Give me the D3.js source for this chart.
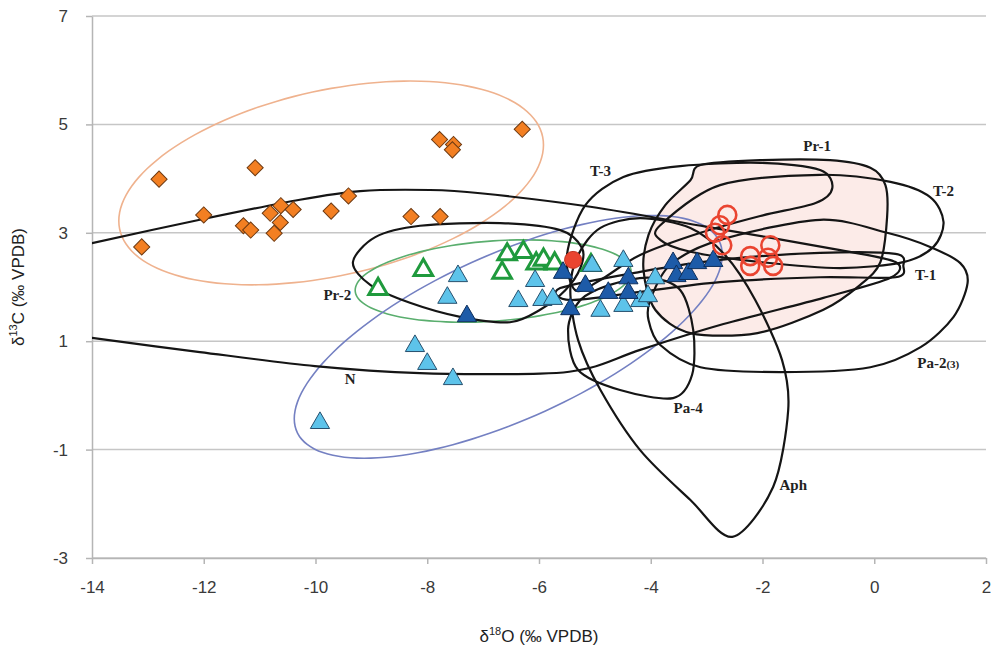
<!DOCTYPE html>
<html>
<head>
<meta charset="utf-8">
<script src="https://cdn.jsdelivr.net/npm/d3@7"></script>
<style>
  body { margin: 0; background: #fff; }
</style>
</head>
<body>
<div id="chart"></div>
<script>
// ticks
const xTicks = [-14, -12, -10, -8, -6, -4, -2, 0, 2];
const yTicks = [-3, -1, 1, 3, 5, 7];

// measured samples (d18O, d13C)
const orangeDiamonds = [[-13.11,2.74],[-12.80,3.99],[-12.00,3.33],[-11.08,4.20],[-11.29,3.13],[-11.16,3.05],
  [-10.81,3.36],[-10.62,3.50],[-10.63,3.19],[-10.74,2.99],[-10.40,3.43],[-9.72,3.40],[-9.41,3.68],
  [-8.29,3.30],[-7.77,3.30],[-7.78,4.72],[-7.53,4.63],[-7.55,4.53],[-6.30,4.91]];
const greenTriangles = [[-8.88,1.98],[-8.07,2.33],[-6.66,2.28],[-6.57,2.62],[-6.28,2.66],[-6.05,2.45],
  [-5.92,2.52],[-5.72,2.45],[-5.07,2.42]];
const lightBlueTriangles = [[-9.92,-0.49],[-8.22,0.93],[-8.00,0.60],[-7.54,0.32],[-7.45,2.22],[-7.64,1.82],
  [-6.37,1.76],[-6.07,2.13],[-5.94,1.78],[-5.75,1.80],[-5.05,2.41],[-4.49,2.50],[-4.90,1.58],[-4.49,1.67],
  [-4.19,1.76],[-4.05,1.85],[-3.92,2.18]];
const darkBlueTriangles = [[-7.29,1.48],[-5.57,2.28],[-5.17,2.04],[-5.44,1.61],[-4.76,1.91],[-4.40,2.18],
  [-4.40,1.91],[-3.60,2.46],[-3.54,2.22],[-3.33,2.26],[-3.17,2.46],[-2.88,2.50]];
const redOpenCircles = [[-2.63,3.33],[-2.76,3.14],[-2.85,3.00],[-2.72,2.77],[-1.86,2.77],[-2.22,2.57],
  [-1.90,2.54],[-2.22,2.39],[-1.81,2.39]];
const redFilled = [[-5.39,2.50]];

// colored ellipses: centre, right-most offset, vertical half extent
const orangeEllipse = { cx: -9.72, cy: 3.92, ux: 3.80, uy: 0.70, h: 1.88 };
const greenEllipse  = { cx: -6.82, cy: 2.11, ux: 2.47, uy: 0.17, h: 0.76 };
const blueEllipse   = { cx: -6.55, cy: 1.08, ux: 3.83, uy: 1.51, h: 2.24 };

// black field outlines (from the picture)
const fieldPr1 = [[-3.11,4.25],[-2.04,4.34],[-0.79,4.34],[-0.07,4.20],[0.20,3.88],[0.23,3.29],[0.11,2.46],
  [-0.25,2.04],[-0.91,1.58],[-2.09,1.15],[-3.29,1.15],[-3.92,1.58],[-4.13,2.31],[-4.04,2.96],[-3.74,3.51],[-3.29,3.97]];
const fieldT2 = [[-3.83,3.14],[-2.76,3.88],[-0.97,4.07],[0.29,3.94],[1.00,3.66],[1.24,3.20],[1.06,2.74],
  [0.52,2.46],[-0.61,2.35],[-2.04,2.46],[-3.29,2.65],[-3.83,2.87]];
const fieldT1 = [[-5.62,1.98],[-4.19,2.28],[-2.76,2.50],[-0.97,2.63],[0.38,2.61],[0.52,2.39],[0.38,2.18],
  [-0.97,2.18],[-2.76,2.09],[-4.19,1.91],[-5.44,1.76]];
const fieldT3 = [[-5.50,2.59],[-5.17,3.51],[-4.49,4.03],[-3.47,4.23],[-2.04,4.29],[-0.97,4.16],[-0.75,3.83],
  [-1.05,3.55],[-2.04,3.31],[-3.11,3.00],[-4.19,2.59],[-4.90,2.13],[-5.35,1.94]];
const fieldPa2 = [[-4.01,1.76],[-3.65,2.41],[-2.76,2.87],[-0.97,3.24],[0.23,3.00],[1.00,2.74],[1.54,2.44],
  [1.67,2.07],[1.42,1.45],[0.83,0.89],[-0.07,0.52],[-1.68,0.43],[-3.11,0.52],[-3.83,0.93],[-4.04,1.39]];
const fieldN = [[-14.93,2.59],[-14.00,2.81],[-12.07,3.24],[-10.28,3.61],[-9.20,3.77],[-7.95,3.79],[-7.05,3.73],
  [-5.08,3.48],[-2.99,3.11],[-0.61,2.68],[0.38,2.46],[0.29,2.17],[-0.91,1.80],[-2.76,1.30],[-4.19,0.84],
  [-5.08,0.51],[-5.98,0.40],[-8.13,0.41],[-10.01,0.54],[-12.07,0.80],[-14.00,1.06],[-14.93,1.21]];
const fieldPr2 = [[-9.33,2.46],[-8.93,2.92],[-8.13,3.13],[-6.69,3.18],[-5.62,3.05],[-5.23,2.72],[-5.26,2.35],
  [-5.53,1.94],[-5.98,1.58],[-6.52,1.35],[-7.41,1.45],[-8.31,1.71],[-9.02,2.04]];
const fieldPa4 = [[-5.48,1.21],[-5.26,1.76],[-4.73,2.04],[-4.01,2.17],[-3.47,1.94],[-3.24,1.21],[-3.26,0.38],
  [-3.60,-0.05],[-4.55,0.10],[-5.30,0.47]];
const fieldAph = [[-2.54,-2.61],[-1.81,-1.69],[-1.54,-0.27],[-1.65,0.65],[-2.13,1.76],[-2.67,2.59],[-3.29,3.09],
  [-4.19,3.27],[-4.90,3.09],[-5.30,2.59],[-5.44,1.94],[-5.30,1.02],[-4.90,0.10],[-4.19,-1.01],[-3.29,-1.93]];

// field labels
const labelNames = ["Pr-1", "T-2", "T-3", "T-1", "Pa-4", "Aph", "N", "Pr-2"];
const labelPos = [[-1.02,4.58],[1.24,3.75],[-4.90,4.12],[0.92,2.20],[-3.33,-0.27],[-1.45,-1.69],[-9.38,0.27],[-9.61,1.82]];

const margin = { top: 16, right: 7, bottom: 100, left: 92 },
  width = 993 - margin.left - margin.right,
  height = 658 - margin.top - margin.bottom;

const svg = d3.select("#chart").append("svg")
  .attr("width", 993)
  .attr("height", 658)
  .style("font-family", "'Liberation Sans', Arial, sans-serif");

const g = svg.append("g").attr("transform", `translate(${margin.left},${margin.top})`);

const x = d3.scaleLinear().domain([-14, 2]).range([0, width]);
const y = d3.scaleLinear().domain([-3, 7]).range([height, 0]);

// grid
g.selectAll(".grid").data(yTicks).enter().append("line")
  .attr("x1", 0).attr("x2", width)
  .attr("y1", d => y(d)).attr("y2", d => y(d))
  .attr("stroke", "#c6c6c6").attr("stroke-width", 1.5);

// axes (plain hyphen for minus, as in the original)
const yAxis = g.append("g")
  .call(d3.axisLeft(y).tickValues(yTicks).tickSize(6).tickSizeOuter(0).tickPadding(18).tickFormat(d => String(d)));
const xAxis = g.append("g").attr("transform", `translate(0,${height})`)
  .call(d3.axisBottom(x).tickValues(xTicks).tickSize(6).tickSizeOuter(0).tickPadding(17).tickFormat(d => String(d)));
[xAxis, yAxis].forEach(a => {
  a.select(".domain").attr("stroke", "#b5b5b5").attr("stroke-width", 1.5);
  a.selectAll(".tick line").attr("stroke", "#b5b5b5").attr("stroke-width", 1.5);
  a.selectAll(".tick text").attr("fill", "#3a3a3a").style("font-size", "17px")
    .style("font-family", "'Liberation Sans', Arial, sans-serif");
});

// clip to plot area
g.append("clipPath").attr("id", "plotClip").append("rect")
  .attr("width", width).attr("height", height);
const plot = g.append("g").attr("clip-path", "url(#plotClip)");

const closed = d3.line().x(d => x(d[0])).y(d => y(d[1])).curve(d3.curveCardinalClosed.tension(0.1));

function ellipsePts(e) {
  const vy = Math.sqrt(e.h * e.h - e.uy * e.uy);
  return d3.range(0, 72).map(i => {
    const t = i / 72 * 2 * Math.PI;
    return [e.cx + e.ux * Math.cos(t), e.cy + e.uy * Math.cos(t) + vy * Math.sin(t)];
  });
}

// Pr-1 shaded field
plot.append("path").datum(fieldPr1).attr("d", closed)
  .attr("fill", "#fcebe8").attr("stroke", "none");

// coloured ellipses
[[orangeEllipse, "#efb28e"], [greenEllipse, "#5aae6e"], [blueEllipse, "#7480c2"]].forEach(([e, c]) => {
  plot.append("path").datum(ellipsePts(e)).attr("d", closed)
    .attr("fill", "none").attr("stroke", c).attr("stroke-width", 1.6);
});

// black outlines
[fieldN, fieldPr2, fieldT1, fieldT2, fieldT3, fieldPa2, fieldPa4, fieldAph, fieldPr1].forEach(f => {
  plot.append("path").datum(f).attr("d", closed)
    .attr("fill", "none").attr("stroke", "#151515").attr("stroke-width", 2.2);
});

// field labels
g.selectAll(".flabel").data(labelNames).enter().append("text")
  .attr("x", (d, i) => x(labelPos[i][0]))
  .attr("y", (d, i) => y(labelPos[i][1]))
  .attr("text-anchor", "middle").attr("dominant-baseline", "middle")
  .style("font-family", "'Liberation Serif', 'Times New Roman', serif")
  .style("font-weight", "bold").style("font-size", "15px").attr("fill", "#222")
  .text(d => d);
const pa2 = g.append("text")
  .attr("x", x(0.77)).attr("y", y(0.56))
  .attr("dominant-baseline", "middle")
  .style("font-family", "'Liberation Serif', 'Times New Roman', serif")
  .style("font-weight", "bold").style("font-size", "15px").attr("fill", "#222");
pa2.append("tspan").text("Pa-2");
pa2.append("tspan").style("font-size", "11px").text("(3)");

// symbols
const diamond = d3.symbol().type(d3.symbolSquare).size(130);

g.selectAll(".dia").data(orangeDiamonds).enter().append("path")
  .attr("d", diamond)
  .attr("transform", d => `translate(${x(d[0])},${y(d[1])}) rotate(45)`)
  .attr("fill", "#f37f22").attr("stroke", "#6e3a12").attr("stroke-width", 1);

g.selectAll(".gtri").data(greenTriangles).enter().append("path")
  .attr("d", d3.symbol().type(d3.symbolTriangle).size(150))
  .attr("transform", d => `translate(${x(d[0])},${y(d[1]) + 1})`)
  .attr("fill", "#fff").attr("stroke", "#1f9a3d").attr("stroke-width", 3);

g.selectAll(".lbtri").data(lightBlueTriangles).enter().append("path")
  .attr("d", d3.symbol().type(d3.symbolTriangle).size(160))
  .attr("transform", d => `translate(${x(d[0])},${y(d[1]) + 1})`)
  .attr("fill", "#5dc3ea").attr("stroke", "#27506e").attr("stroke-width", 1);

g.selectAll(".dbtri").data(darkBlueTriangles).enter().append("path")
  .attr("d", d3.symbol().type(d3.symbolTriangle).size(160))
  .attr("transform", d => `translate(${x(d[0])},${y(d[1]) + 1})`)
  .attr("fill", "#1d5ba8").attr("stroke", "#0e2f5c").attr("stroke-width", 1);

g.selectAll(".rfill").data(redFilled).enter().append("circle")
  .attr("cx", d => x(d[0])).attr("cy", d => y(d[1])).attr("r", 8.5)
  .attr("fill", "#ea4430").attr("stroke", "#c23020").attr("stroke-width", 1);

g.selectAll(".ropen").data(redOpenCircles).enter().append("circle")
  .attr("cx", d => x(d[0])).attr("cy", d => y(d[1])).attr("r", 9)
  .attr("fill", "none").attr("stroke", "#ea4430").attr("stroke-width", 2.6);

// axis titles
const yt = svg.append("text")
  .attr("transform", `translate(20,${margin.top + y(2)}) rotate(-90)`)
  .attr("text-anchor", "middle").attr("dominant-baseline", "middle")
  .style("font-size", "17px").attr("fill", "#222");
yt.append("tspan").text("δ");
yt.append("tspan").attr("dy", "-6").style("font-size", "11px").text("13");
yt.append("tspan").attr("dy", "6").text("C (‰ VPDB)");

const xt = svg.append("text")
  .attr("x", margin.left + x(-6)).attr("y", 638)
  .attr("text-anchor", "middle").attr("dominant-baseline", "middle")
  .style("font-size", "17px").attr("fill", "#222");
xt.append("tspan").text("δ");
xt.append("tspan").attr("dy", "-6").style("font-size", "11px").text("18");
xt.append("tspan").attr("dy", "6").text("O (‰ VPDB)");
</script>
</body>
</html>
